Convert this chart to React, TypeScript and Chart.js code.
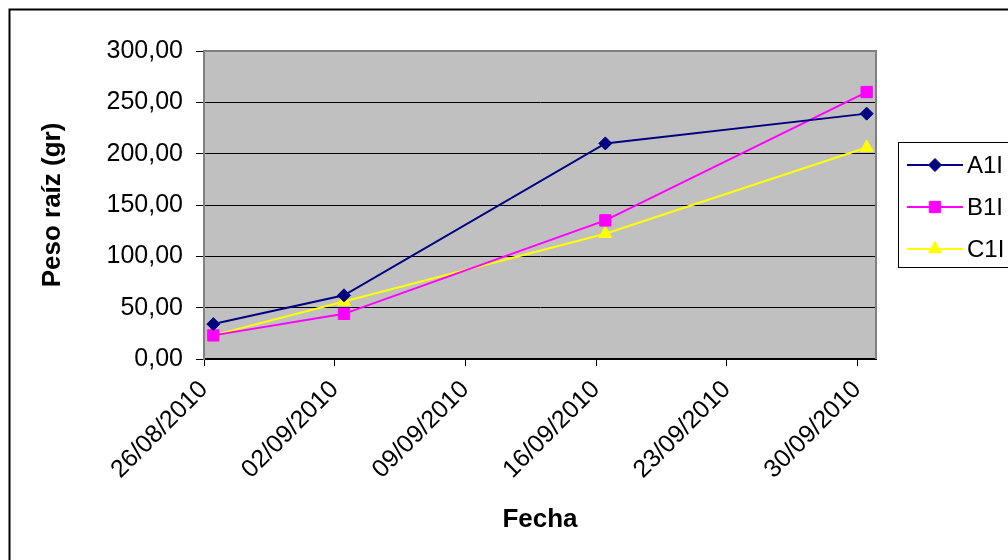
import React, { useEffect, useRef } from "react";
import { Chart, registerables } from "chart.js";

Chart.register(...registerables);

// ---- data ----
const axisStart = "26/08/2010";
const axisEnd = "01/10/2010";
const tickLabels = ["26/08/2010", "02/09/2010", "09/09/2010", "16/09/2010", "23/09/2010", "30/09/2010"];
const sampleDates = ["26/08/2010", "02/09/2010", "16/09/2010", "30/09/2010"];
const seriesNames = ["A1I", "B1I", "C1I"];
const a1iValues = [34, 62, 210, 239];
const b1iValues = [23, 44, 135, 260];
const c1iValues = [23, 56, 122, 206];
const yTicks = [0, 50, 100, 150, 200, 250, 300];
const xTitle = "Fecha";
const yTitle = "Peso raíz (gr)";

const FONT = "'Liberation Sans', Arial, sans-serif";

function dayOf(s: string): number {
  const [d, m, y] = s.split("/").map(Number);
  const [d0, m0, y0] = axisStart.split("/").map(Number);
  return (Date.UTC(y, m - 1, d) - Date.UTC(y0, m0 - 1, d0)) / 86400000;
}

// Excel date axis: points sit between dates (middle of the day)
const toPoints = (vals: number[]) => sampleDates.map((s, i) => ({ x: dayOf(s) + 0.5, y: vals[i] }));

const styles = [
  { color: "#000080", point: "rectRot", radius: 6.5 },
  { color: "#FF00FF", point: "rect", radius: 8 },
  { color: "#FFFF00", point: "triangle", radius: 7.5 },
];

function drawMarker(ctx: CanvasRenderingContext2D, style: string, x: number, y: number, r: number) {
  ctx.beginPath();
  if (style === "rectRot") {
    ctx.moveTo(x, y - r);
    ctx.lineTo(x + r, y);
    ctx.lineTo(x, y + r);
    ctx.lineTo(x - r, y);
  } else if (style === "rect") {
    const s = Math.SQRT1_2 * r;
    ctx.rect(x - s, y - s, 2 * s, 2 * s);
  } else {
    ctx.moveTo(x, y - r);
    ctx.lineTo(x + Math.sin((2 * Math.PI) / 3) * r, y - Math.cos((2 * Math.PI) / 3) * r);
    ctx.lineTo(x + Math.sin((4 * Math.PI) / 3) * r, y - Math.cos((4 * Math.PI) / 3) * r);
  }
  ctx.closePath();
  ctx.fill();
  ctx.stroke();
}

const bgPlugin = {
  id: "excelBg",
  beforeDraw(chart: any) {
    const { ctx, chartArea: a, width, height } = chart;
    ctx.save();
    ctx.fillStyle = "#fff";
    ctx.fillRect(0, 0, width, height);
    ctx.fillStyle = "#C0C0C0";
    ctx.fillRect(a.left, a.top, a.right - a.left, a.bottom - a.top);
    ctx.restore();
  },
  afterDraw(chart: any) {
    const { ctx, chartArea: a } = chart;
    ctx.save();
    // plot border (top/right)
    ctx.strokeStyle = "#808080";
    ctx.lineWidth = 2;
    ctx.beginPath();
    ctx.moveTo(a.left, a.top);
    ctx.lineTo(a.right, a.top);
    ctx.lineTo(a.right, a.bottom);
    ctx.stroke();
    // outer chart border
    ctx.strokeStyle = "#000";
    ctx.lineWidth = 2;
    ctx.strokeRect(9.5, 9.5, 1200, 700);
    // legend
    const lx = 898, ly = 142, lw = 140, lh = 125;
    ctx.fillStyle = "#fff";
    ctx.fillRect(lx, ly, lw, lh);
    ctx.strokeStyle = "#000";
    ctx.lineWidth = 1;
    ctx.strokeRect(lx + 0.5, ly + 0.5, lw, lh);
    chart.data.datasets.forEach((ds: any, i: number) => {
      const y = ly + 23 + i * 42;
      ctx.strokeStyle = ds.borderColor;
      ctx.lineWidth = 2;
      ctx.beginPath();
      ctx.moveTo(907, y);
      ctx.lineTo(963, y);
      ctx.stroke();
      ctx.fillStyle = ds.pointBackgroundColor;
      ctx.strokeStyle = ds.pointBorderColor;
      ctx.lineWidth = 1;
      drawMarker(ctx, ds.pointStyle, 935, y, ds.pointRadius);
      ctx.fillStyle = "#000";
      ctx.font = `24px ${FONT}`;
      ctx.textBaseline = "middle";
      ctx.textAlign = "left";
      ctx.fillText(ds.label, 967, y + 1);
    });
    ctx.restore();
  },
};

export default function App() {
  const ref = useRef<HTMLCanvasElement | null>(null);
  useEffect(() => {
    if (!ref.current) return;
    const allValues = [a1iValues, b1iValues, c1iValues];
    const chart = new Chart(ref.current, {
      type: "line",
      data: {
        datasets: allValues.map((vals, i) => ({
          label: seriesNames[i],
          data: toPoints(vals),
          borderColor: styles[i].color,
          backgroundColor: styles[i].color,
          pointBackgroundColor: styles[i].color,
          pointBorderColor: styles[i].color,
          pointStyle: styles[i].point as any,
          pointRadius: styles[i].radius,
          pointBorderWidth: 1,
          borderWidth: 2,
          tension: 0,
          clip: false as any,
        })),
      },
      options: {
        animation: false,
        responsive: false,
        events: [],
        layout: { padding: { left: 0, right: 132, top: 51, bottom: 0 } },
        plugins: { legend: { display: false }, tooltip: { enabled: false } },
        scales: {
          x: {
            type: "linear",
            min: 0,
            max: dayOf(axisEnd),
            afterFit: (s: any) => { s.height = 201; },
            afterBuildTicks: (s: any) => { s.ticks = tickLabels.map((t) => ({ value: dayOf(t) })); },
            ticks: {
              autoSkip: false,
              minRotation: 45,
              maxRotation: 45,
              padding: 9,
              color: "#000",
              font: { family: FONT, size: 25 },
              callback: (v: any) => {
                const idx = tickLabels.findIndex((t) => dayOf(t) === v);
                return idx >= 0 ? tickLabels[idx] : "";
              },
            },
            grid: { drawOnChartArea: false, drawTicks: true, tickLength: 7, color: "#000", lineWidth: 1 },
            border: { display: true, color: "#000", width: 2 },
            title: {
              display: true,
              text: xTitle,
              color: "#000",
              font: { family: FONT, size: 26, weight: "bold" },
              padding: { top: 0, bottom: 25 },
            },
          },
          y: {
            min: 0,
            max: 300,
            afterFit: (s: any) => { s.width = 204; },
            afterBuildTicks: (s: any) => { s.ticks = yTicks.map((v) => ({ value: v })); },
            ticks: {
              padding: 13,
              color: "#000",
              font: { family: FONT, size: 25 },
              callback: (v: any) => Number(v).toFixed(2).replace(".", ","),
            },
            grid: {
              color: (c: any) => (c.tick && c.tick.value === 300 ? "#808080" : "#000"),
              tickColor: "#000",
              tickLength: 8,
              lineWidth: 1,
            },
            border: { display: true, color: "#808080", width: 2 },
            title: {
              display: true,
              text: yTitle,
              color: "#000",
              font: { family: FONT, size: 26, weight: "bold" },
              padding: { top: 37, bottom: 0 },
            },
          },
        },
      },
      plugins: [bgPlugin],
    });
    return () => chart.destroy();
  }, []);
  return (
    <div style={{ position: "fixed", left: 0, top: 0, width: 1008, height: 560, overflow: "hidden" }}>
      <canvas ref={ref} width={1008} height={560} />
    </div>
  );
}
